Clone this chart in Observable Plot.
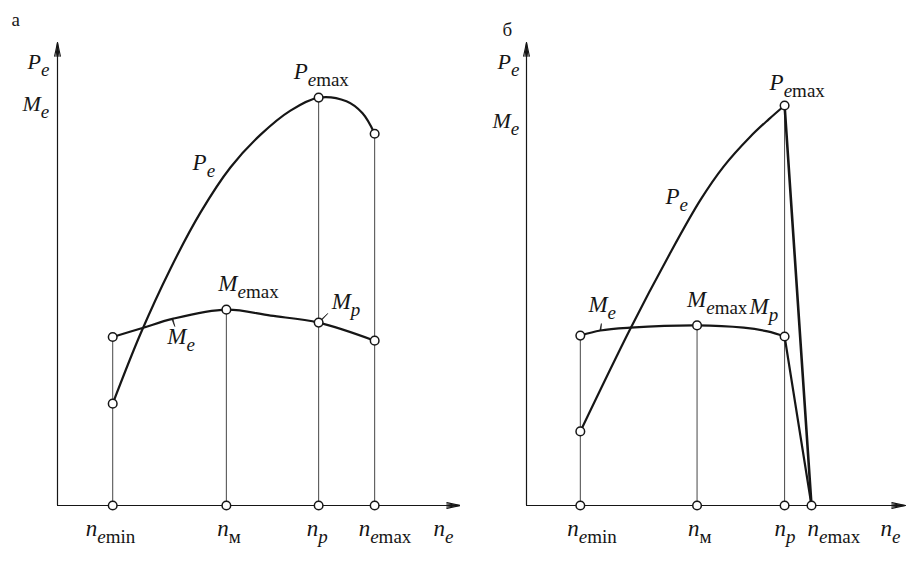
<!DOCTYPE html>
<html><head><meta charset="utf-8">
<script src="https://cdn.jsdelivr.net/npm/d3@7"></script>
<script src="https://cdn.jsdelivr.net/npm/@observablehq/plot@0.6"></script>
<style>
body{margin:0;background:#fff;}
#wrap{display:flex;width:921px;height:564px;overflow:hidden;}
svg{display:block;}
svg text, svg tspan{font-family:"Liberation Serif","DejaVu Serif","Times New Roman",serif !important;}
</style></head><body><div id="wrap"></div>
<script>
// ---------- data (relative units, 0..100 on each axis) ----------
const speedLabels = ["n|e|min", "n||м", "n|p|", "n|e|max"];
const axisLabelX = "n|e|";
const axisLabelsY = ["P|e|", "M|e|"];
const panelNames = ["а", "б"];

// Panel а (carburettor engine)
const speedA = [13.7, 41.9, 64.8, 78.7];
const powerA_n = [13.7, 20.6, 28.0, 35.5, 42.9, 50.4, 57.8, 64.8, 71.7, 75.7, 78.7];
const powerA   = [22.0, 37.1, 51.1, 63.3, 73.0, 80.1, 85.3, 88.1, 87.3, 84.7, 80.3];
const torqueA_n = [13.7, 21.3, 28.5, 41.9, 52.9, 64.8, 78.7];
const torqueA   = [36.4, 38.4, 40.3, 42.3, 41.0, 39.5, 35.6];

// Panel б (diesel with governor)
const speedB = [14.2, 45.0, 68.1, 75.2];
const powerB_n = [14.2, 27.4, 37.5, 45.9, 52.0, 59.1, 63.9, 68.1];
const powerB   = [16.0, 38.2, 53.9, 66.0, 73.2, 79.7, 83.4, 86.4];
const torqueB_n = [14.2, 19.5, 27.4, 45.0, 57.3, 63.6, 68.1];
const torqueB   = [36.7, 37.8, 38.4, 38.9, 38.4, 37.6, 36.5];
const cutoffB = 0;   // P and M at n_emax after governor cut-off

const axisMax = 100;

// ---------- styling ----------
const INK = "#161616";
const FONT = "Liberation Serif, DejaVu Serif, serif";
const SUB_SIZE = 19, SUB_SHIFT = 7;

const pts = (ns, vs) => ns.map((n, i) => ({n, v: vs[i]}));
const at = (ns, vs, n) => { const i = ns.indexOf(n); return i < 0 ? null : vs[i]; };

function lab(t, x, y, dx, dy, o = {}) {
  return Plot.text([{t, x, y}], {x: "x", y: "y", text: "t", dx, dy,
    textAnchor: "start", lineAnchor: "bottom", fontSize: 23, fill: INK,
    fontStyle: "italic", ...o});
}
// small leader stroke from a curve point towards its label
function leader(x, y, rotate, length) {
  return Plot.vector([{x, y}], {x: "x", y: "y", rotate, length, anchor: "start",
    shape: "spike", r: 0.6, fill: INK, stroke: INK, strokeWidth: 0.6});
}

function subscripts(svg) {
  d3.select(svg).selectAll("text").each(function () {
    const t = this.textContent;
    this.setAttribute("font-family", FONT);
    if (!t.includes("|")) return;
    const [m, si, sr] = t.split("|");
    const s = d3.select(this);
    s.text(null);
    s.append("tspan").attr("font-style", "italic").text(m);
    if (si) s.append("tspan").attr("font-style", "italic").attr("font-size", SUB_SIZE).attr("dy", SUB_SHIFT).text(si);
    if (sr) s.append("tspan").attr("font-style", "normal").attr("font-size", SUB_SIZE).attr("dy", si ? 0 : SUB_SHIFT).text(sr);
  });
  return svg;
}

function panel(cfg) {
  const {width, marginLeft, marginRight, speeds, pN, pV, mN, mV, cutoff, leaders, extra} = cfg;
  const P = pts(pN, pV), M = pts(mN, mV);
  const drops = speeds.map(n => ({n, top: Math.max(at(pN, pV, n) ?? 0, at(mN, mV, n) ?? 0)}))
                      .filter(d => d.top > 0);
  const keyP = P.filter(d => speeds.includes(d.n));
  const keyM = M.filter(d => speeds.includes(d.n));
  const axisDots = speeds.map(n => ({n, v: 0}));
  const cutP = cutoff == null ? [] : [P[P.length - 1], {n: speeds[3], v: cutoff}];
  const cutM = cutoff == null ? [] : [M[M.length - 1], {n: speeds[3], v: cutoff}];
  const axes = [{x1: 0, y1: 0, x2: 0, y2: axisMax}, {x1: 0, y1: 0, x2: axisMax, y2: 0}];

  const svg = Plot.plot({
    width, height: 564, marginLeft, marginRight, marginTop: 42, marginBottom: 59,
    x: {domain: [0, axisMax], axis: null},
    y: {domain: [0, axisMax], axis: null},
    style: {background: "#fff", overflow: "visible", fontFamily: FONT},
    marks: [
      Plot.ruleX(drops, {x: "n", y1: 0, y2: "top", stroke: INK, strokeWidth: 0.8}),
      Plot.arrow(axes, {x1: "x1", y1: "y1", x2: "x2", y2: "y2", stroke: INK, strokeWidth: 1.1, headLength: 19, headAngle: 24}),
      Plot.arrow(axes, {x1: "x1", y1: "y1", x2: "x2", y2: "y2", stroke: INK, strokeWidth: 1.1, headLength: 19, headAngle: 12}),
      ...leaders,
      Plot.line(P, {x: "n", y: "v", curve: "catmull-rom", stroke: INK, strokeWidth: 2.2}),
      Plot.line(M, {x: "n", y: "v", curve: "catmull-rom", stroke: INK, strokeWidth: 2.2}),
      Plot.line(cutP, {x: "n", y: "v", stroke: INK, strokeWidth: 2.6}),
      Plot.line(cutM, {x: "n", y: "v", stroke: INK, strokeWidth: 2.2}),
      Plot.dot(axisDots, {x: "n", y: "v", r: 4.3, fill: "#fff", stroke: INK, strokeWidth: 1.5}),
      Plot.dot(keyM, {x: "n", y: "v", r: 4.3, fill: "#fff", stroke: INK, strokeWidth: 1.5}),
      Plot.dot(keyP, {x: "n", y: "v", r: 4.3, fill: "#fff", stroke: INK, strokeWidth: 1.5}),
      ...extra
    ]
  });
  return subscripts(svg);
}

const svgA = panel({
  width: 460, marginLeft: 57, marginRight: 0, speeds: speedA,
  pN: powerA_n, pV: powerA, mN: torqueA_n, mV: torqueA, cutoff: null,
  leaders: [
    leader(torqueA_n[2], torqueA[2], 162, 8),
    leader(torqueA_n[5], torqueA[5], 45, 13)
  ],
  extra: [
    lab(panelNames[0], 0, axisMax, -46, -17, {fontStyle: "normal", fontSize: 19}),
    lab(axisLabelsY[0], 0, axisMax, -30, 26, {fontSize: 22}),
    lab(axisLabelsY[1], 0, axisMax, -35, 68, {fontSize: 22}),
    lab("P|e|max", powerA_n[7], powerA[7], -25, -19),
    lab("P|e|", powerA_n[3], powerA[3], -8, -42),
    lab("M|e|max", torqueA_n[3], torqueA[3], -8, -19),
    lab("M|p|", torqueA_n[5], torqueA[5], 13, -14),
    lab("M|e|", torqueA_n[2], torqueA[2], -5, 25),
    lab(speedLabels[0], speedA[0], 0, -27, 30),
    lab(speedLabels[1], speedA[1], 0, -9, 30),
    lab(speedLabels[2], speedA[2], 0, -12, 30),
    lab(speedLabels[3], speedA[3], 0, -16, 30),
    lab(axisLabelX, axisMax, 0, -27, 30)
  ]
});

const svgB = panel({
  width: 461, marginLeft: 66, marginRight: 16, speeds: speedB,
  pN: powerB_n, pV: powerB, mN: torqueB_n, mV: torqueB, cutoff: cutoffB,
  leaders: [
    leader(torqueB_n[1], torqueB[1], 8, 7)
  ],
  extra: [
    lab(panelNames[1], 0, axisMax, -24, -7, {fontStyle: "normal", fontSize: 19}),
    lab(axisLabelsY[0], 0, axisMax, -29, 26, {fontSize: 22}),
    lab(axisLabelsY[1], 0, axisMax, -34, 85, {fontSize: 22}),
    lab("P|e|max", powerB_n[7], powerB[7], -15, -15),
    lab("P|e|", powerB_n[3], powerB[3], -35, 4),
    lab("M|e|", torqueB_n[1], torqueB[1], -12, -18),
    lab("M|e|max", torqueB_n[3], torqueB[3], -10, -18),
    lab("M|p|", torqueB_n[6], torqueB[6], -35, -23),
    lab(speedLabels[0], speedB[0], 0, -13, 30),
    lab(speedLabels[1], speedB[1], 0, -9, 30),
    lab(speedLabels[2], speedB[2], 0, -10, 30),
    lab(speedLabels[3], speedB[3], 0, -4, 30),
    lab(axisLabelX, axisMax, 0, -25, 30)
  ]
});

document.getElementById("wrap").append(svgA, svgB);
</script></body></html>
